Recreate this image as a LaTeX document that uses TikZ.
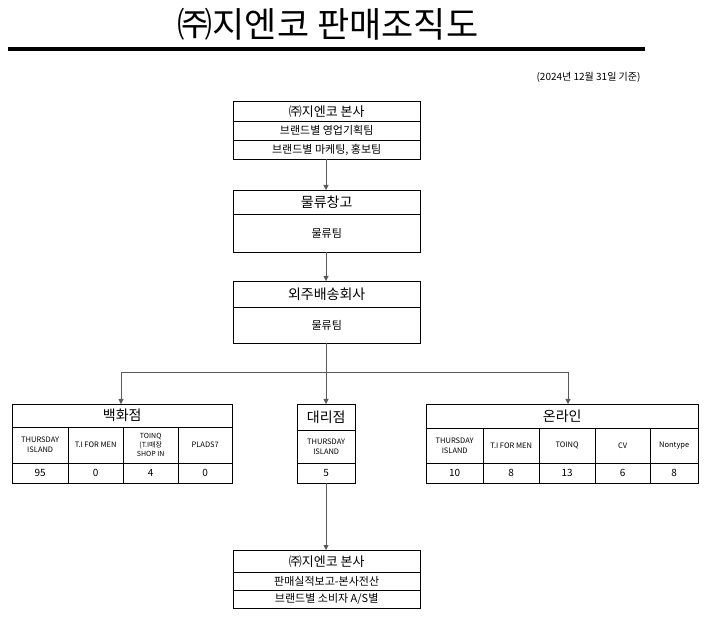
\documentclass[tikz,border=0pt]{standalone}
\usepackage{fontspec}
\setmainfont{Noto Sans CJK KR}
\usetikzlibrary{arrows.meta}

\tikzset{
  cell/.style={draw, inner sep=0pt, align=center},
  link/.style={-{Triangle[length=5pt,width=5pt]}, gray!70!black}
}
% cell from (x1,y1) to (x2,y2), with text
\newcommand{\cellbox}[6]{%
  \node[cell, minimum width=#3-#1, minimum height=#4-#2, anchor=north west,
        font=#5] at (#1,-#2) {#6};}

\begin{document}
\begin{tikzpicture}[x=1pt,y=1pt]
    \useasboundingbox (0,0) rectangle (710,-620);

    % Title
    \node (title) at (328,-24) {\fontsize{35}{38}\selectfont ㈜지엔코 판매조직도};
    \draw[line width=3.5pt] (8,-49) -- (645,-49);
    \node[anchor=east, font=\fontsize{10}{11}\selectfont] (date) at (644,-77) {(2024년 12월 31일 기준)};

    % Head office
    \cellbox{233}{101}{420}{121}{\fontsize{13}{14}\selectfont}{㈜지엔코 본사}
    \cellbox{233}{121}{420}{140}{\fontsize{11}{12}\selectfont}{브랜드별 영업기획팀}
    \cellbox{233}{140}{420}{159}{\fontsize{11}{12}\selectfont}{브랜드별 마케팅, 홍보팀}
    \coordinate (hq) at (326,-159);

    % Warehouse
    \cellbox{233}{190}{420}{214}{\fontsize{14}{15}\selectfont}{물류창고}
    \cellbox{233}{214}{420}{252}{\fontsize{11}{12}\selectfont}{물류팀}
    \coordinate (wh in) at (326,-190);
    \coordinate (wh) at (326,-252);

    % Delivery
    \cellbox{233}{281}{420}{307}{\fontsize{14}{15}\selectfont}{외주배송회사}
    \cellbox{233}{307}{420}{343}{\fontsize{11}{12}\selectfont}{물류팀}
    \coordinate (dl in) at (326,-281);
    \coordinate (dl) at (326,-343);

    % Department stores
    \cellbox{12}{404}{232}{427}{\fontsize{14}{15}\selectfont}{백화점}
    \cellbox{12}{427}{68}{463}{\fontsize{7.5}{10}\selectfont}{THURSDAY\\ISLAND}
    \cellbox{68}{427}{123}{463}{\fontsize{7.5}{10}\selectfont}{T.I FOR MEN}
    \cellbox{123}{427}{178}{463}{\fontsize{7}{9}\selectfont}{TOINQ\\(T.I매장\\SHOP IN}
    \cellbox{178}{427}{232}{463}{\fontsize{7.5}{10}\selectfont}{PLADS7}
    \cellbox{12}{463}{68}{483}{\fontsize{10}{11}\selectfont}{95}
    \cellbox{68}{463}{123}{483}{\fontsize{10}{11}\selectfont}{0}
    \cellbox{123}{463}{178}{483}{\fontsize{10}{11}\selectfont}{4}
    \cellbox{178}{463}{232}{483}{\fontsize{10}{11}\selectfont}{0}
    \coordinate (dept) at (121,-404);

    % Agencies
    \cellbox{297}{404}{355}{430}{\fontsize{14}{15}\selectfont}{대리점}
    \cellbox{297}{430}{355}{463}{\fontsize{7.5}{10}\selectfont}{THURSDAY\\ISLAND}
    \cellbox{297}{463}{355}{483}{\fontsize{10}{11}\selectfont}{5}
    \coordinate (agency) at (326,-404);
    \coordinate (agency out) at (326,-483);

    % Online
    \cellbox{426}{404}{698}{428}{\fontsize{14}{15}\selectfont}{온라인}
    \cellbox{426}{428}{483}{463}{\fontsize{7.5}{10}\selectfont}{THURSDAY\\ISLAND}
    \cellbox{483}{428}{539}{463}{\fontsize{7.5}{10}\selectfont}{T.I FOR MEN}
    \cellbox{539}{428}{595}{463}{\fontsize{7.5}{10}\selectfont}{TOINQ}
    \cellbox{595}{428}{650}{463}{\fontsize{7.5}{10}\selectfont}{CV}
    \cellbox{650}{428}{698}{463}{\fontsize{7.5}{10}\selectfont}{Nontype}
    \cellbox{426}{463}{483}{483}{\fontsize{10}{11}\selectfont}{10}
    \cellbox{483}{463}{539}{483}{\fontsize{10}{11}\selectfont}{8}
    \cellbox{539}{463}{595}{483}{\fontsize{10}{11}\selectfont}{13}
    \cellbox{595}{463}{650}{483}{\fontsize{10}{11}\selectfont}{6}
    \cellbox{650}{463}{698}{483}{\fontsize{10}{11}\selectfont}{8}
    \coordinate (online) at (568,-404);

    % Report back to head office
    \cellbox{233}{550}{420}{572}{\fontsize{13}{14}\selectfont}{㈜지엔코 본사}
    \cellbox{233}{572}{420}{590}{\fontsize{11}{12}\selectfont}{판매실적보고-본사전산}
    \cellbox{233}{590}{420}{608}{\fontsize{11}{12}\selectfont}{브랜드별 소비자 A/S별}
    \coordinate (report) at (326,-550);

    % Connectors
    \draw[link] (hq) -- (wh in);
    \draw[link] (wh) -- (dl in);
    \coordinate (split) at (326,-372);
    \draw[gray!70!black] (dl) -- (split);
    \draw[gray!70!black] (dept |- split) -- (online |- split);
    \draw[link] (dept |- split) -- (dept);
    \draw[link] (split) -- (agency);
    \draw[link] (online |- split) -- (online);
    \draw[link] (agency out) -- (report);
\end{tikzpicture}
\end{document}
